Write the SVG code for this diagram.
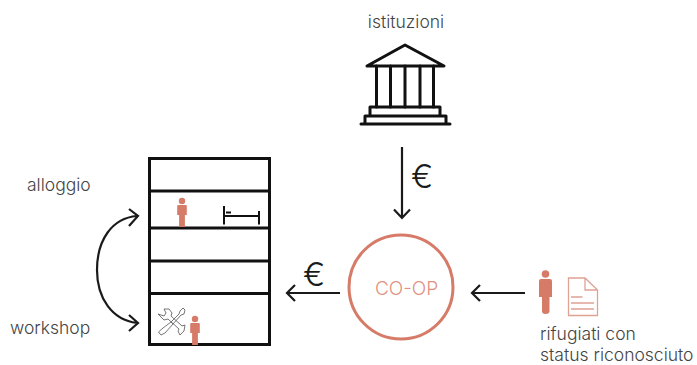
<svg xmlns="http://www.w3.org/2000/svg" width="697" height="365" viewBox="0 0 697 365">
<style>
text{font-family:"Inter","Liberation Sans",sans-serif;font-weight:300;font-size:17.500px;fill:#444}
.k{fill:none;stroke:#111;stroke-width:3}
.a{fill:none;stroke:#1a1a1a;stroke-width:2.2}
.r{fill:#d67b68}
.d{fill:none;stroke:#e0a294;stroke-width:1.3}
.e{font-size:33px;fill:#1a1a1a}
</style>
<defs>
<g id="person"><circle cx="0" cy="-21" r="3.2"/><path d="M-3.800-17H3.800Q4.800-17 4.800-16V-7H2.900V5H-2.900V-7H-4.800V-16Q-4.800-17-3.800-17Z"/></g>
</defs>
<g id="connectors">
<path class="a" d="M402 147V217M394 209.500L402 218L410 209.500"/>
<path class="a" d="M340 293H287M295 285L287 293L295 301"/>
<path class="a" d="M525 293H472M480 285L472 293L480 301"/>
<path class="a" d="M137 216C112 218 97 240 97 270C97 298 112 320 137 323M129 209L138 216L129 226M129 315L138 323L129 331"/>
</g>
<g id="istituzioni">
<text x="406" y="28" text-anchor="middle">istituzioni</text>
<g fill="none" stroke="#111" stroke-width="3" stroke-linecap="round" stroke-linejoin="round">
<path d="M367 66L405 45L444 66Z"/>
<path d="M376.500 66V107M390.500 66V107M405 66V107M420 66V107M433.500 66V107"/>
<path d="M370 107H440M370 107V116M440 107V116M365 116H446M365 116V124M446 116V124M361 124H450"/>
</g>
</g>
<g id="building">
<rect class="k" x="149.500" y="158.500" width="120" height="186"/>
<path class="k" d="M149 191H270M149 228H270M149 261H270M149 293.500H270"/>
</g>
<g id="alloggio">
<text x="27" y="191">alloggio</text>
<use href="#person" class="r" x="182" y="222"/>
<path d="M224 206V224.500M259 211V224.500M224 216H259M226 212.500H231" fill="none" stroke="#111" stroke-width="2"/>
</g>
<g id="workshop">
<text x="10" y="334">workshop</text>
<use href="#person" class="r" x="195" y="340"/>
<g fill="none" stroke="#666" stroke-width="0.9">
<path d="M158.500 332L161 335L165 333L173 324L171 322L163 328Z"/>
<path d="M173 324L181 315L184 314L185 310L183 308L180 311L179 314L171 322"/>
<path d="M164 309L169 309L172 313L171 316L182 326L185 325L184 331L180 335L178 331L179 329L168 319L164 320L158 314L164 316L166 313Z"/>
</g>
</g>
<g id="coop">
<circle cx="401" cy="287" r="52" fill="none" stroke="#d67b68" stroke-width="3"/>
<text x="406.500" y="295" text-anchor="middle" style="fill:#e0917f;font-size:19px">CO-OP</text>
</g>
<text class="e" x="303" y="286">€</text>
<text class="e" x="411" y="188">€</text>
<g id="rifugiati">
<circle class="r" cx="545.500" cy="274" r="3.800"/>
<path class="r" d="M541 279H550Q552 279 552 281V297H549.500V311Q549.500 314 545.500 314Q542 314 542 311V297H539V281Q539 279 541 279Z"/>
<path class="d" d="M568.500 278H585L597.500 290V315.500H568.500ZM585 278V290H597.500"/>
<path class="d" d="M571 297H582.500M571 303H594M571 309H594"/>
<text x="540" y="340">rifugiati con</text>
<text x="540" y="360.500">status riconosciuto</text>
</g>
</svg>
